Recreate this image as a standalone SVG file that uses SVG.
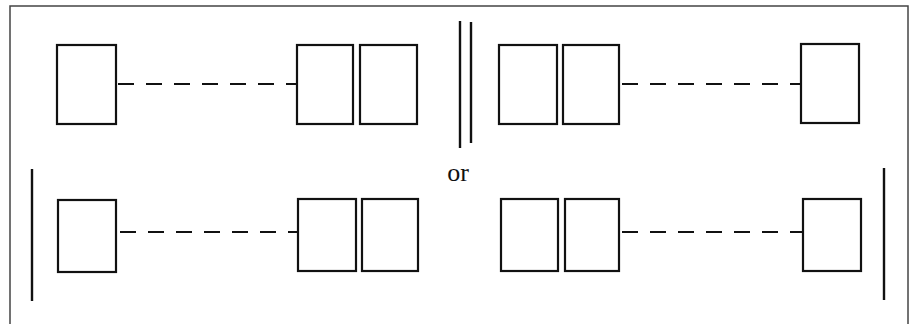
<svg xmlns="http://www.w3.org/2000/svg" width="913" height="324" viewBox="0 0 913 324">
<style>
.box{fill:none;stroke:#111;stroke-width:2.2}
.dash{fill:none;stroke:#111;stroke-width:2;stroke-dasharray:16 12}
.bar{fill:none;stroke:#111;stroke-width:2.4}
.frame{fill:none;stroke:#444;stroke-width:1.5}
.lbl{font-family:"Liberation Serif","Times New Roman",serif;font-size:26px;fill:#111}
</style>
<rect width="913" height="324" fill="#fff"/>
<rect class="frame" x="10" y="6" width="898" height="330"/>
<g id="top-left-box"><rect class="box" x="57" y="45" width="59" height="79"/></g>
<g id="top-mid-left-box1"><rect class="box" x="297" y="45" width="56" height="79"/></g>
<g id="top-mid-left-box2"><rect class="box" x="360" y="45" width="57" height="79"/></g>
<g id="top-mid-right-box1"><rect class="box" x="499" y="45" width="58" height="79"/></g>
<g id="top-mid-right-box2"><rect class="box" x="563" y="45" width="56" height="79"/></g>
<g id="top-right-box"><rect class="box" x="801" y="44" width="58" height="79"/></g>
<g id="double-wall">
<line class="bar" x1="460" y1="21" x2="460" y2="148"/>
<line class="bar" x1="471" y1="22" x2="471" y2="143"/>
</g>
<g id="bottom-left-box"><rect class="box" x="58" y="200" width="58" height="72"/></g>
<g id="bottom-mid-left-box1"><rect class="box" x="298" y="199" width="58" height="72"/></g>
<g id="bottom-mid-left-box2"><rect class="box" x="362" y="199" width="56" height="72"/></g>
<g id="bottom-mid-right-box1"><rect class="box" x="501" y="199" width="57" height="72"/></g>
<g id="bottom-mid-right-box2"><rect class="box" x="565" y="199" width="54" height="72"/></g>
<g id="bottom-right-box"><rect class="box" x="803" y="199" width="58" height="72"/></g>
<g id="left-wall"><line class="bar" x1="32" y1="169" x2="32" y2="301"/></g>
<g id="right-wall"><line class="bar" x1="884" y1="168" x2="884" y2="300"/></g>
<g id="connectors">
<line class="dash" x1="118" y1="84" x2="297" y2="84"/>
<line class="dash" x1="622" y1="84" x2="801" y2="84"/>
<line class="dash" x1="120" y1="232" x2="298" y2="232"/>
<line class="dash" x1="622" y1="232" x2="803" y2="232"/>
</g>
<text class="lbl" x="458" y="181" text-anchor="middle">or</text>
</svg>
